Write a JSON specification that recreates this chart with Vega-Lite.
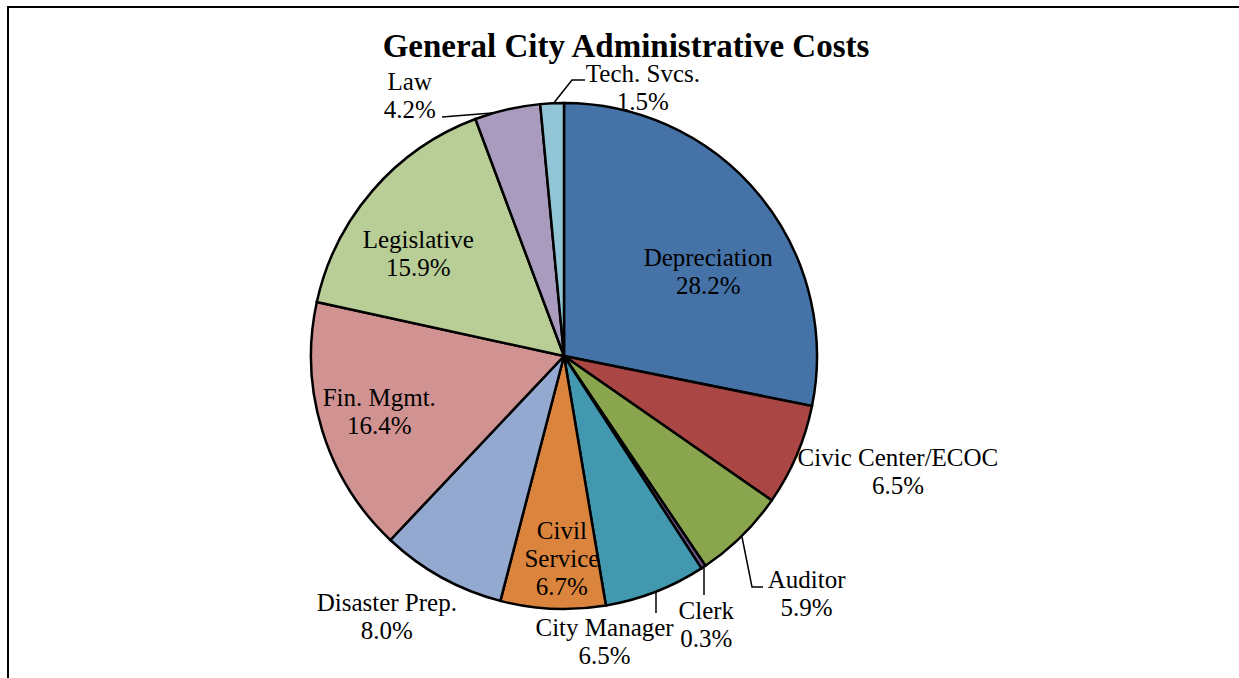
{
  "$schema": "https://vega.github.io/schema/vega-lite/v6.json",
  "width": 1232,
  "height": 672,
  "autosize": {"type": "none"},
  "padding": {"left": 8, "top": 7, "right": 0, "bottom": 0},
  "background": "white",
  "config": {"view": {"stroke": "black", "strokeWidth": 2}},
  "title": {
    "text": "General City Administrative Costs",
    "font": "Liberation Serif",
    "fontSize": 33,
    "fontWeight": "bold",
    "color": "black",
    "anchor": "middle",
    "frame": "group",
    "baseline": "alphabetic",
    "offset": -83,
    "dx": 2
  },
  "datasets": {
    "costs": [
      {"order": 1, "name": "Depreciation", "value": 28.2},
      {"order": 2, "name": "Civic Center/ECOC", "value": 6.5},
      {"order": 3, "name": "Auditor", "value": 5.9},
      {"order": 4, "name": "Clerk", "value": 0.3},
      {"order": 5, "name": "City Manager", "value": 6.5},
      {"order": 6, "name": "Civil Service", "value": 6.7},
      {"order": 7, "name": "Disaster Prep.", "value": 8.0},
      {"order": 8, "name": "Fin. Mgmt.", "value": 16.4},
      {"order": 9, "name": "Legislative", "value": 15.9},
      {"order": 10, "name": "Law", "value": 4.2},
      {"order": 11, "name": "Tech. Svcs.", "value": 1.5}
    ],
    "leaders": [
      {"label": "Auditor", "seq": 1, "x": 0.7036, "y": -0.7154},
      {"label": "Auditor", "seq": 2, "x": 0.7431, "y": -0.9130},
      {"label": "Auditor", "seq": 3, "x": 0.7866, "y": -0.9130},
      {"label": "Clerk", "seq": 1, "x": 0.5534, "y": -0.8379},
      {"label": "Clerk", "seq": 2, "x": 0.5534, "y": -0.9447},
      {"label": "City Manager", "seq": 1, "x": 0.3636, "y": -0.9368},
      {"label": "City Manager", "seq": 2, "x": 0.3636, "y": -1.0158},
      {"label": "Law", "seq": 1, "x": -0.4822, "y": 0.9447},
      {"label": "Law", "seq": 2, "x": -0.2846, "y": 0.9605},
      {"label": "Tech. Svcs.", "seq": 1, "x": -0.0435, "y": 0.9960},
      {"label": "Tech. Svcs.", "seq": 2, "x": 0.0316, "y": 1.0909},
      {"label": "Tech. Svcs.", "seq": 3, "x": 0.0830, "y": 1.0909}
    ]
  },
  "layer": [
    {
      "data": {"name": "costs"},
      "mark": {"type": "arc", "radius": 253, "stroke": "black", "strokeWidth": 2.5},
      "encoding": {
        "x": {"datum": 0, "type": "quantitative", "scale": {"domain": [-2.19763, 2.67194], "nice": false, "zero": false}, "axis": null},
        "y": {"datum": 0, "type": "quantitative", "scale": {"domain": [-1.27668, 1.37945], "nice": false, "zero": false}, "axis": null},
        "theta": {"field": "value", "type": "quantitative", "stack": true},
        "order": {"field": "order", "type": "quantitative"},
        "color": {
          "field": "name",
          "type": "nominal",
          "legend": null,
          "scale": {
            "domain": ["Depreciation", "Civic Center/ECOC", "Auditor", "Clerk", "City Manager", "Civil Service", "Disaster Prep.", "Fin. Mgmt.", "Legislative", "Law", "Tech. Svcs."],
            "range": ["#4572A7", "#AA4643", "#89A54E", "#71588F", "#4198AF", "#DB843D", "#93A9CF", "#D19392", "#B9CD96", "#A99BBD", "#92C5D6"]
          }
        }
      }
    },
    {
      "data": {"name": "leaders"},
      "mark": {"type": "line", "stroke": "black", "strokeWidth": 1.5},
      "encoding": {
        "x": {"field": "x", "type": "quantitative"},
        "y": {"field": "y", "type": "quantitative"},
        "detail": {"field": "label", "type": "nominal"},
        "order": {"field": "seq", "type": "quantitative"}
      }
    },
    {
      "data": {"name": "costs"},
      "transform": [
        {"calculate": "(datum.name === 'Civil Service' ? 'Civil\\nService' : datum.name) + '\\n' + format(datum.value, '.1f') + '%'", "as": "label"}
      ],
      "mark": {
        "type": "text",
        "font": "Liberation Serif",
        "fontSize": 25,
        "color": "black",
        "align": "center",
        "baseline": "middle",
        "lineBreak": "\n",
        "lineHeight": 28,
        "radius": {"expr": "[185,300,300,300,300,185,300,185,185,300,300][datum.order-1]"},
        "dx": {"expr": "[1,58,32,-23,-68,6,-32,-8,-6,-87,93][datum.order-1]"},
        "dy": {"expr": "[19,-16,10,5,-8,-10,-16,-13,5,18,18][datum.order-1]"}
      },
      "encoding": {
        "x": {"datum": 0, "type": "quantitative"},
        "y": {"datum": 0, "type": "quantitative"},
        "theta": {"field": "value", "type": "quantitative", "stack": true},
        "order": {"field": "order", "type": "quantitative"},
        "text": {"field": "label", "type": "nominal"}
      }
    }
  ]
}
